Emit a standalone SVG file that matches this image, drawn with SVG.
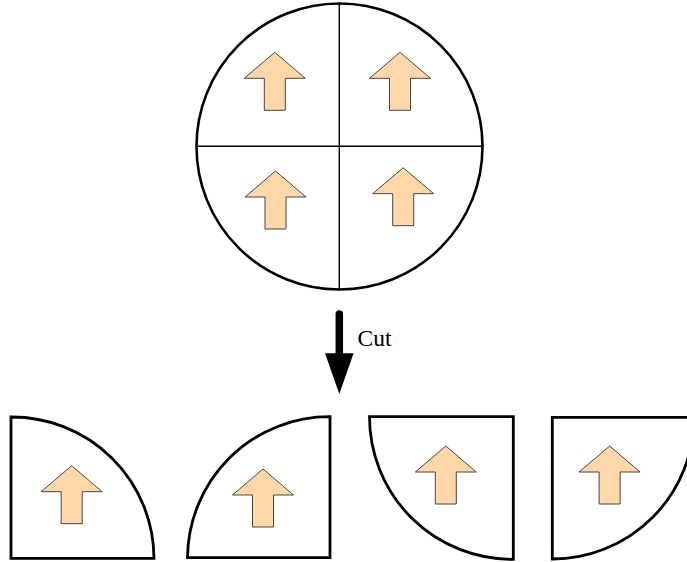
<svg xmlns="http://www.w3.org/2000/svg" xmlns:xlink="http://www.w3.org/1999/xlink" width="687" height="562" viewBox="0 0 687 562">
<style>
.outline{fill:#fff;stroke:#000;stroke-width:2.6}
.divider{stroke:#000;stroke-width:1.4;fill:none}
.piece{fill:#fff;stroke:#000;stroke-width:2.8;stroke-linejoin:miter}
.lbl{font-family:"Liberation Serif","Times New Roman",serif;font-size:23.5px;fill:#000}
</style>
<defs>
<path id="arr" d="M0,0 L30.5,26 L10.5,26 L10.5,58 L-10.5,58 L-10.5,26 L-30.5,26 Z" fill="#FFD7A8" stroke="#333" stroke-width="0.9" stroke-linejoin="miter"/>
</defs>
<rect width="687" height="562" fill="#fff"/>
<g id="wafer">
<circle class="outline" cx="339.5" cy="146.5" r="143"/>
<line class="divider" x1="339.3" y1="4" x2="339.3" y2="289"/>
<line class="divider" x1="197" y1="146.3" x2="482" y2="146.3"/>
<use xlink:href="#arr" href="#arr" transform="translate(274.8,52.3)"/>
<use xlink:href="#arr" href="#arr" transform="translate(400,52.3)"/>
<use xlink:href="#arr" href="#arr" transform="translate(275.5,171)"/>
<use xlink:href="#arr" href="#arr" transform="translate(403.2,167.7)"/>
</g>
<g id="connectors">
<line x1="339.3" y1="314" x2="339.3" y2="356" stroke="#000" stroke-width="7.5" stroke-linecap="round"/>
<polygon points="325,353.3 353.6,353.3 339.3,394" fill="#000"/>
<text class="lbl" x="357.5" y="345.5">Cut</text>
</g>
<g id="piece1">
<path class="piece" d="M11,417 L11,558.3 L154,558.3 A142,142 0 0 0 11,417 Z"/>
<use xlink:href="#arr" href="#arr" transform="translate(71.7,465.7)"/>
</g>
<g id="piece2">
<path class="piece" d="M330,416.7 L330,557.7 L187.5,557.7 A142,142 0 0 1 330,416.7 Z"/>
<use xlink:href="#arr" href="#arr" transform="translate(263,469)"/>
</g>
<g id="piece3">
<path class="piece" d="M369.5,416.7 L513.3,416.7 L513.3,559.3 A142.5,142.5 0 0 1 369.5,416.7 Z"/>
<use xlink:href="#arr" href="#arr" transform="translate(445.8,446)"/>
</g>
<g id="piece4">
<path class="piece" d="M552.3,559 L552.3,417.3 L694,417.3 A141.7,141.7 0 0 1 552.3,559 Z"/>
<use xlink:href="#arr" href="#arr" transform="translate(609.6,446)"/>
</g>
</svg>
